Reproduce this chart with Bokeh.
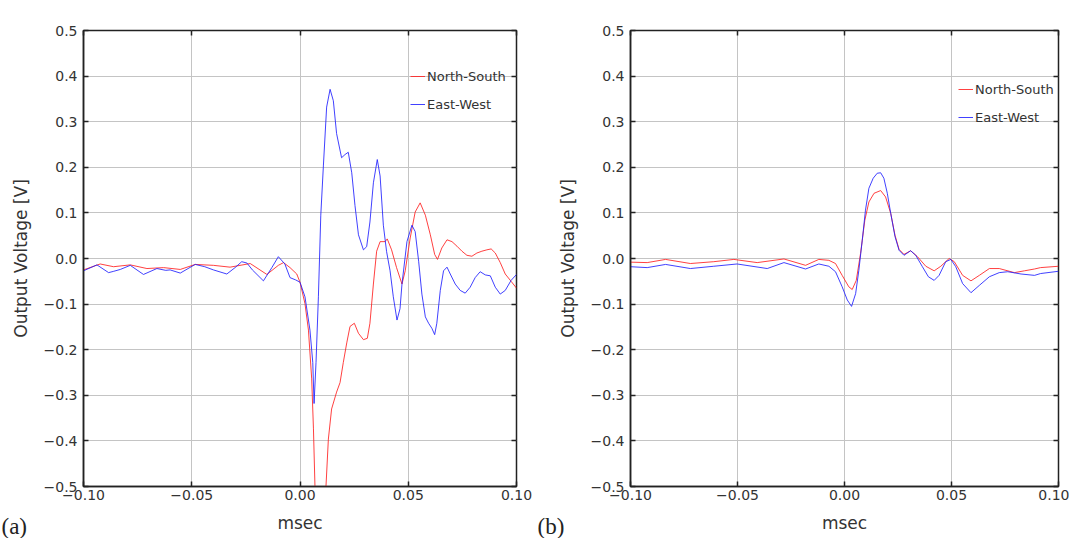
from bokeh.plotting import figure
from bokeh.layouts import row
from bokeh.models import (Range1d, FixedTicker, CustomJSTickFormatter, LinearAxis,
                          Legend, LegendItem, Title)
from bokeh.embed import file_html
from bokeh.resources import INLINE

# ---------------- data (a) ----------------
ew_a_x = [-0.100, -0.0938, -0.0884, -0.0860, -0.0830, -0.0784, -0.0723, -0.0661, -0.0620,
          -0.0600, -0.0553, -0.0484, -0.0440, -0.0400, -0.0338, -0.0300, -0.0269, -0.0245,
          -0.0220, -0.0169, -0.0130, -0.0100, -0.0070, -0.0046, -0.0020, 0.0000, 0.0023,
          0.0046, 0.0059, 0.0065, 0.0074, 0.0085, 0.0096, 0.0108, 0.0123, 0.0139, 0.0154,
          0.0169, 0.0192, 0.0208, 0.0223, 0.0239, 0.0254, 0.0270, 0.0293, 0.0308, 0.0323,
          0.0339, 0.0357, 0.0370, 0.0385, 0.0400, 0.0416, 0.0431, 0.0448, 0.0462, 0.0471,
          0.0494, 0.0517, 0.0532, 0.0548, 0.0563, 0.0579, 0.0594, 0.0609, 0.0622, 0.0632,
          0.0648, 0.0663, 0.0679, 0.0694, 0.0717, 0.0740, 0.0763, 0.0786, 0.0809, 0.0832,
          0.0856, 0.0879, 0.0902, 0.0925, 0.0948, 0.0975, 0.1000]
ew_a_y = [-0.027, -0.014, -0.031, -0.028, -0.024, -0.015, -0.035, -0.022, -0.026,
          -0.025, -0.032, -0.013, -0.018, -0.025, -0.034, -0.020, -0.007, -0.010,
          -0.025, -0.049, -0.020, 0.004, -0.012, -0.042, -0.047, -0.052, -0.084,
          -0.157, -0.228, -0.318, -0.228, -0.084, 0.095, 0.203, 0.332, 0.371, 0.346,
          0.274, 0.221, 0.228, 0.233, 0.188, 0.116, 0.052, 0.019, 0.026, 0.080,
          0.166, 0.217, 0.181, 0.073, 0.015, -0.027, -0.084, -0.135, -0.110, -0.056,
          0.037, 0.073, 0.059, -0.006, -0.078, -0.128, -0.142, -0.153, -0.167, -0.142,
          -0.070, -0.027, -0.019, -0.034, -0.056, -0.070, -0.076, -0.063, -0.042, -0.029,
          -0.036, -0.038, -0.063, -0.078, -0.070, -0.048, -0.035]

ns_a_x = [-0.100, -0.0923, -0.0861, -0.0784, -0.0707, -0.0630, -0.0553, -0.0484, -0.0400,
          -0.0323, -0.0230, -0.0153, -0.0100, -0.0076, -0.0046, -0.0015, 0.0000, 0.0023,
          0.0039, 0.0054, 0.0062, 0.0069, 0.0080, 0.0095, 0.0110, 0.0120, 0.0131, 0.0146,
          0.0169, 0.0185, 0.0200, 0.0216, 0.0231, 0.0251, 0.0270, 0.0293, 0.0311, 0.0323,
          0.0339, 0.0354, 0.0370, 0.0393, 0.0403, 0.0423, 0.0446, 0.0471, 0.0486, 0.0509,
          0.0532, 0.0555, 0.0579, 0.0602, 0.0622, 0.0635, 0.0655, 0.0679, 0.0702, 0.0725,
          0.0748, 0.0771, 0.0794, 0.0817, 0.0840, 0.0863, 0.0883, 0.0902, 0.0925, 0.0948,
          0.0975, 0.1000]
ns_a_y = [-0.025, -0.012, -0.018, -0.014, -0.022, -0.020, -0.024, -0.013, -0.015,
          -0.019, -0.011, -0.035, -0.015, -0.009, -0.020, -0.034, -0.052, -0.099,
          -0.157, -0.264, -0.372, -0.498, -0.600, -0.640, -0.580, -0.500, -0.396, -0.330,
          -0.293, -0.272, -0.228, -0.185, -0.149, -0.142, -0.164, -0.178, -0.175, -0.142,
          -0.056, 0.016, 0.037, 0.037, 0.043, 0.019, -0.020, -0.056, -0.027, 0.045,
          0.102, 0.122, 0.095, 0.052, 0.009, -0.002, 0.023, 0.041, 0.037, 0.027,
          0.016, 0.007, 0.005, 0.012, 0.016, 0.019, 0.021, 0.012, -0.009, -0.034,
          -0.050, -0.065]

# ---------------- data (b) ----------------
ns_b_x = [-0.100, -0.0922, -0.0836, -0.0720, -0.0611, -0.0517, -0.0408, -0.0283, -0.0182,
          -0.0120, -0.0073, -0.0042, -0.0011, 0.0020, 0.0036, 0.0055, 0.0075, 0.0095, 0.0114,
          0.0138, 0.0169, 0.0192, 0.0216, 0.0236, 0.0255, 0.0278, 0.0309, 0.0341, 0.0380,
          0.0419, 0.0450, 0.0489, 0.0513, 0.0552, 0.0591, 0.0630, 0.0677, 0.0723, 0.0794,
          0.0841, 0.0888, 0.0916, 0.1000]
ns_b_y = [-0.008, -0.009, -0.002, -0.011, -0.007, -0.002, -0.009, -0.001, -0.015,
          -0.002, -0.004, -0.011, -0.037, -0.062, -0.068, -0.048, 0.011, 0.084, 0.124,
          0.143, 0.149, 0.135, 0.099, 0.051, 0.020, 0.009, 0.017, 0.004, -0.017,
          -0.027, -0.017, 0.000, -0.007, -0.037, -0.049, -0.037, -0.022, -0.022, -0.031,
          -0.027, -0.023, -0.020, -0.017]

ew_b_x = [-0.100, -0.0922, -0.0836, -0.0720, -0.0611, -0.0502, -0.0361, -0.0283, -0.0182,
          -0.0120, -0.0073, -0.0042, -0.0011, 0.0013, 0.0033, 0.0052, 0.0067, 0.0083, 0.0098,
          0.0114, 0.0134, 0.0153, 0.0169, 0.0184, 0.0200, 0.0216, 0.0236, 0.0255, 0.0278,
          0.0309, 0.0333, 0.0364, 0.0392, 0.0419, 0.0442, 0.0473, 0.0497, 0.0520, 0.0552,
          0.0591, 0.0630, 0.0677, 0.0723, 0.0763, 0.0825, 0.0888, 0.0916, 0.1000]
ew_b_y = [-0.018, -0.020, -0.013, -0.022, -0.017, -0.012, -0.022, -0.009, -0.023,
          -0.012, -0.017, -0.029, -0.062, -0.091, -0.105, -0.077, -0.026, 0.040, 0.106,
          0.154, 0.176, 0.187, 0.188, 0.176, 0.143, 0.099, 0.048, 0.018, 0.007,
          0.017, 0.007, -0.018, -0.040, -0.048, -0.037, -0.007, -0.002, -0.018, -0.055,
          -0.075, -0.059, -0.040, -0.031, -0.029, -0.034, -0.037, -0.033, -0.028]

x_ticks = [-0.10, -0.05, 0.00, 0.05, 0.10]
y_ticks = [-0.5, -0.4, -0.3, -0.2, -0.1, 0.0, 0.1, 0.2, 0.3, 0.4, 0.5]
series_labels = ["North-South", "East-West"]
panel_labels = ["(a)", "(b)"]

FONT = "DejaVu Sans"
TXT = "#333333"
RED = "#ff2020"
BLUE = "#2020ff"
FRAME = "#222222"


def fmt(dec):
    return CustomJSTickFormatter(code=f"""
        const s = Math.abs(tick).toFixed({dec});
        return (tick < -1e-9 ? '\\u2212' : '') + s;
    """)


BLANK = CustomJSTickFormatter(code="return '';")


def make_fig(width, height, bl, br, bt, bb, ns, ew, legend_loc, panel_label, lab_off):
    p = figure(width=width, height=height, x_range=Range1d(-0.1, 0.1),
               y_range=Range1d(-0.5, 0.5), output_backend="svg", toolbar_location=None,
               min_border_left=bl, min_border_right=br, min_border_top=bt,
               min_border_bottom=bb, background_fill_color="white",
               border_fill_color="white")
    p.outline_line_color = FRAME
    p.outline_line_width = 1.5

    p.xaxis.ticker = FixedTicker(ticks=x_ticks)
    p.yaxis.ticker = FixedTicker(ticks=y_ticks)
    p.xaxis.formatter = fmt(2)
    p.yaxis.formatter = fmt(1)
    for ax in (p.xaxis, p.yaxis):
        ax.major_tick_in = 5
        ax.major_tick_out = 0
        ax.minor_tick_line_color = None
        ax.major_tick_line_color = FRAME
        ax.major_tick_line_width = 1.5
        ax.axis_line_color = FRAME
        ax.axis_line_width = 1.5
        ax.major_label_text_font = FONT
        ax.major_label_text_font_size = "14px"
        ax.major_label_text_color = TXT
        ax.axis_label_text_font = FONT
        ax.axis_label_text_font_size = "17px"
        ax.axis_label_text_font_style = "normal"
        ax.axis_label_text_color = TXT
    p.xaxis.axis_label = "msec"
    p.yaxis.axis_label = "Output Voltage [V]"
    p.xaxis.major_label_standoff = 3
    p.xaxis.axis_label_standoff = 10
    p.yaxis.major_label_standoff = 6
    p.yaxis.axis_label_standoff = 10

    for loc, tk in (("above", x_ticks), ("right", y_ticks)):
        ax = LinearAxis(ticker=FixedTicker(ticks=tk), formatter=BLANK,
                        major_tick_in=5, major_tick_out=0,
                        minor_tick_line_color=None, major_label_standoff=0,
                        axis_line_color=None, major_tick_line_color=FRAME,
                        major_tick_line_width=1.5)
        p.add_layout(ax, loc)

    p.xgrid.ticker = FixedTicker(ticks=x_ticks)
    p.ygrid.ticker = FixedTicker(ticks=y_ticks)
    p.grid.grid_line_color = "#c4c4c4"
    p.grid.grid_line_width = 1

    r_ns = p.line(ns[0], ns[1], line_color=RED, line_width=1, line_alpha=0.85)
    r_ew = p.line(ew[0], ew[1], line_color=BLUE, line_width=1, line_alpha=0.85)

    legend = Legend(items=[LegendItem(label=series_labels[0], renderers=[r_ns]),
                           LegendItem(label=series_labels[1], renderers=[r_ew])],
                    location=legend_loc, border_line_color=None, background_fill_alpha=0,
                    padding=0, margin=0, spacing=8, glyph_width=15, glyph_height=20,
                    label_height=20, label_standoff=2, label_text_font=FONT,
                    label_text_font_size="13px", label_text_color=TXT)
    p.add_layout(legend)

    # panel letter, drawn in the bottom border beside the axis title
    p.add_layout(Title(text=panel_label, align="left", offset=lab_off,
                       vertical_align="top", standoff=-44,
                       text_font="Liberation Serif", text_font_size="23px",
                       text_font_style="normal", text_color="#222222"), "below")
    return p


pa = make_fig(538, 538, 83, 22, 22, 52, (ns_a_x, ns_a_y), (ew_a_x, ew_a_y),
              (327, 372), panel_labels[0], -82)
pb = make_fig(531, 538, 92, 11, 30, 52, (ns_b_x, ns_b_y), (ew_b_x, ew_b_y),
              (328, 359), panel_labels[1], -93)

layout = row(pa, pb)
open("out.html", "w").write(file_html(layout, INLINE))
